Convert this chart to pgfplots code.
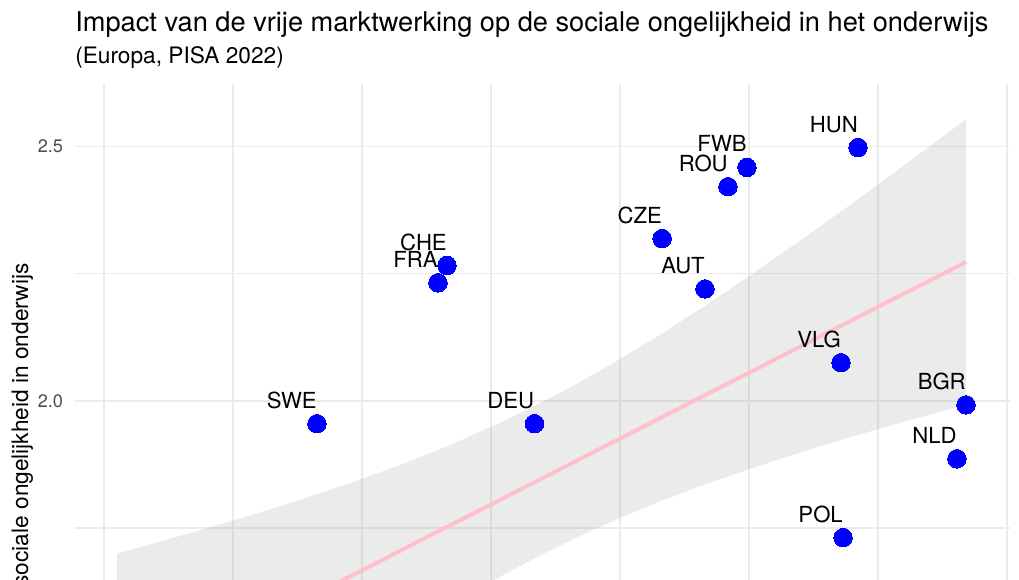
\documentclass[border=0pt]{standalone}
\usepackage{pgfplots}
\usepackage{pgfplotstable}
\pgfplotsset{compat=1.18}
\usepackage{fontspec}
\setmainfont{TeX Gyre Heros}
\definecolor{gridc}{RGB}{235,235,235}
\definecolor{ptblue}{RGB}{0,0,255}
\definecolor{pinkline}{RGB}{255,192,203}
\definecolor{bandc}{RGB}{153,153,153}
\definecolor{tickc}{RGB}{77,77,77}

\pgfplotstableread{
x y lab
5.845 2.498 HUN
4.984 2.459 FWB
4.837 2.421 ROU
4.326 2.319 CZE
2.659 2.266 CHE
2.589 2.232 FRA
4.659 2.220 AUT
5.713 2.075 VLG
6.682 1.992 BGR
6.612 1.886 NLD
1.651 1.955 SWE
3.337 1.955 DEU
5.729 1.731 POL
}\pts

% confidence band: upper edge left->right, lower edge right->left
\pgfplotstableread{
x y
0.1008 1.6996
0.4341 1.7230
0.7442 1.7455
1.1318 1.7744
1.5194 1.8051
1.9070 1.8380
2.2946 1.8736
2.6822 1.9128
3.0698 1.9565
3.3798 1.9951
3.6899 2.0368
4.0000 2.0819
4.3101 2.1297
4.6202 2.1803
5.0078 2.2463
5.3953 2.3148
5.7829 2.3850
6.1705 2.4571
6.6822 2.5535
6.6822 1.9925
6.1705 1.9567
5.7829 1.9283
5.3953 1.8982
5.0078 1.8663
4.6202 1.8319
4.3101 1.8022
4.0000 1.7697
3.6899 1.7344
3.3798 1.6959
3.0698 1.6541
2.6822 1.5974
2.2946 1.5362
1.9070 1.4715
1.5194 1.4039
1.1318 1.3343
0.7442 1.2628
0.4341 1.2049
0.1008 1.1417
}\band

\begin{document}
\begin{tikzpicture}
\path[use as bounding box] (0pt,0pt) rectangle (764.25pt,435pt);
\clip (0pt,0pt) rectangle (764.25pt,435pt);
\begin{axis}[
  at={(56.25pt,372pt)}, anchor=north west,
  scale only axis, width=701.25pt, height=372pt,
  xmin=-0.2248, xmax=7.0233, ymin=1.6476, ymax=2.623,
  axis line style={draw=none},
  major tick length=0pt, minor tick length=0pt,
  xtick={0,1,...,7}, xticklabels={},
  ytick={1.5,2,2.5}, minor ytick={1.75,2.25},
  grid=both,
  major grid style={gridc, line width=1.1pt},
  minor grid style={gridc, line width=1.1pt},
  yticklabel style={font=\fontsize{13.6}{16}\selectfont, text=tickc, anchor=east, inner sep=0pt, xshift=-8.8pt,
    /pgf/number format/fixed, /pgf/number format/fixed zerofill, /pgf/number format/precision=1,
    /pgf/number format/assume math mode=true},
]
\addplot[only marks, color=ptblue, mark=*, mark size=6.94pt, mark options={draw=ptblue, fill=ptblue, line width=0pt}] table[x=x,y=y]{\pts};
\addplot[draw=none, fill=bandc, fill opacity=0.2] table[x=x,y=y]{\band} -- cycle;
\addplot[pinkline, line width=3pt] coordinates {(0.1008,1.4207) (6.6822,2.2730)};
\addplot[only marks, mark=none, nodes near coords, point meta=explicit symbolic,
  nodes near coords style={anchor=base east, yshift=11.6pt, inner sep=0pt, font=\fontsize{16.6}{20}\selectfont, text=black}]
  table[x=x,y=y,meta=lab]{\pts};
\end{axis}
\node[anchor=base west, inner sep=0pt, font=\fontsize{20.4}{24}\selectfont] at (56.25pt,411pt) {Impact van de vrije marktwerking op de sociale ongelijkheid in het onderwijs};
\node[anchor=base west, inner sep=0pt, font=\fontsize{17}{20}\selectfont] at (56.25pt,387pt) {(Europa, PISA 2022)};
\node[rotate=90, anchor=base east, inner sep=0pt, font=\fontsize{17}{20}\selectfont] at (21pt,237.75pt) {Index sociale ongelijkheid in onderwijs};
\end{tikzpicture}
\end{document}
